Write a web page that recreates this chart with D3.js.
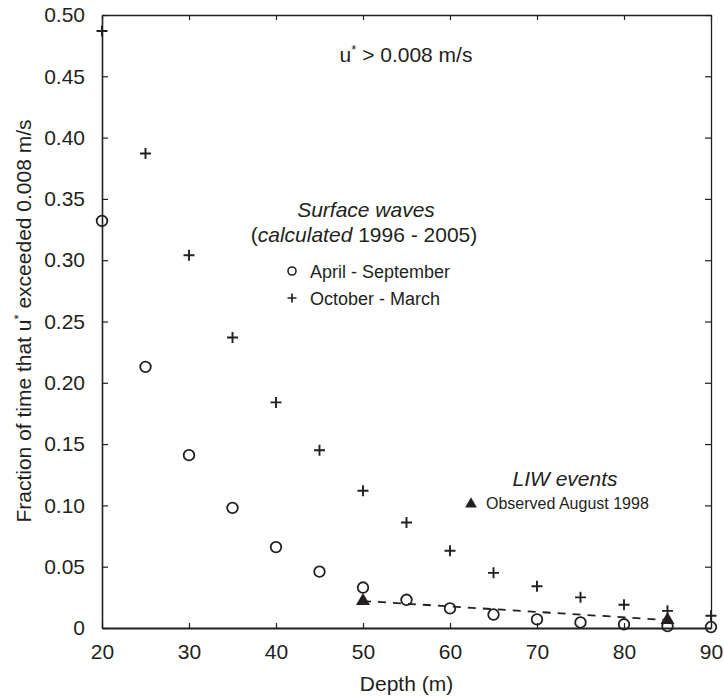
<!DOCTYPE html>
<html>
<head>
<meta charset="utf-8">
<script src="https://cdn.jsdelivr.net/npm/d3@7"></script>
<style>
  body { margin: 0; background: #fff; }
  svg text { font-family: "Liberation Sans", Arial, sans-serif; fill: #231f20; }
  .axis path, .axis line { stroke: #231f20; }
</style>
</head>
<body>
<svg id="chart" width="724" height="696"></svg>
<script>
// depths (m)
const depths = [20, 25, 30, 35, 40, 45, 50, 55, 60, 65, 70, 75, 80, 85, 90];
// calculated surface waves, April - September (circles)
const aprSep = [0.332, 0.213, 0.141, 0.098, 0.066, 0.046, 0.033, 0.023, 0.016, 0.011, 0.007, 0.0045, 0.003, 0.0015, 0.0008];
// calculated surface waves, October - March (crosses)
const octMar = [0.487, 0.387, 0.304, 0.237, 0.184, 0.145, 0.112, 0.086, 0.063, 0.045, 0.034, 0.025, 0.019, 0.014, 0.010];
// LIW events observed August 1998 (triangles)
const liwDepths = [50, 85];
const liwValues = [0.022, 0.0065];

const xTicks = [20, 30, 40, 50, 60, 70, 80, 90];
const yTicks = [0, 0.05, 0.10, 0.15, 0.20, 0.25, 0.30, 0.35, 0.40, 0.45, 0.50];

const svg = d3.select('#chart');
const DIM = { width: 724, height: 696, margin_top: 15, margin_bottom: 68, margin_left: 102, margin_right: 13 };
DIM.inner_w = DIM.width - DIM.margin_left - DIM.margin_right;
DIM.inner_h = DIM.height - DIM.margin_top - DIM.margin_bottom;

const x = d3.scaleLinear().domain([20, 90]).range([DIM.margin_left, DIM.margin_left + DIM.inner_w]);
const y = d3.scaleLinear().domain([0, 0.5]).range([DIM.margin_top + DIM.inner_h, DIM.margin_top]);

const ink = '#231f20';

// axes, ticks pointing inward
const fmtY = d => d === 0 ? '0' : d3.format('.2f')(d);

svg.append('g')
    .attr('class', 'axis')
    .attr('transform', `translate(0, ${y(0)})`)
    .call(d3.axisBottom(x).tickValues(xTicks).tickSizeInner(-5).tickSizeOuter(0).tickPadding(16).tickFormat(d3.format('d')))
    .call(g => g.select('.domain').attr('stroke-width', 2.2));

svg.append('g')
    .attr('class', 'axis')
    .attr('transform', `translate(${x(20)}, 0)`)
    .call(d3.axisLeft(y).tickValues(yTicks).tickSizeInner(-6).tickSizeOuter(0).tickPadding(17).tickFormat(fmtY))
    .call(g => g.select('.domain').attr('stroke-width', 1.6));

// top and right frame with inner ticks, no labels
svg.append('g')
    .attr('class', 'axis')
    .attr('transform', `translate(0, ${y(0.5)})`)
    .call(d3.axisTop(x).tickValues(xTicks).tickSizeInner(-5).tickSizeOuter(0).tickFormat(''))
    .call(g => g.select('.domain').attr('stroke-width', 1.3));

svg.append('g')
    .attr('class', 'axis')
    .attr('transform', `translate(${x(90)}, 0)`)
    .call(d3.axisRight(y).tickValues(yTicks).tickSizeInner(-6).tickSizeOuter(0).tickFormat(''))
    .call(g => g.select('.domain').attr('stroke-width', 1.3));

svg.selectAll('.axis .tick text').attr('font-size', 21).attr('fill', ink);
svg.selectAll('.axis .tick line').attr('stroke-width', 1.2);

// axis titles
svg.append('text')
    .attr('x', x(55))
    .attr('y', 691)
    .attr('text-anchor', 'middle')
    .attr('font-size', 21)
    .text('Depth (m)');

const yLabel = svg.append('text')
    .attr('transform', `translate(31, 321) rotate(-90)`)
    .attr('text-anchor', 'middle')
    .attr('font-size', 21);
yLabel.append('tspan').text('Fraction of time that u');
yLabel.append('tspan').attr('font-size', 13).attr('dy', -8).text('*');
yLabel.append('tspan').attr('dy', 8).text(' exceeded 0.008 m/s');

// dashed line between LIW observations
const liw = liwDepths.map((d, i) => ({ x: d, y: liwValues[i] }));
svg.append('path')
    .datum(liw)
    .attr('fill', 'none')
    .attr('stroke', ink)
    .attr('stroke-width', 1.8)
    .attr('stroke-dasharray', '8,7')
    .attr('d', d3.line().x(d => x(d.x)).y(d => y(d.y)));

// circles
svg.append('g')
    .selectAll('circle')
    .data(depths.map((d, i) => ({ x: d, y: aprSep[i] })))
    .join('circle')
    .attr('cx', d => x(d.x))
    .attr('cy', d => y(d.y))
    .attr('r', 5.3)
    .attr('fill', 'none')
    .attr('stroke', ink)
    .attr('stroke-width', 1.8);

// crosses
const plus = (s) => `M${-s},0H${s}M0,${-s}V${s}`;
svg.append('g')
    .selectAll('path')
    .data(depths.map((d, i) => ({ x: d, y: octMar[i] })))
    .join('path')
    .attr('transform', d => `translate(${x(d.x)}, ${y(d.y)})`)
    .attr('d', plus(5.5))
    .attr('stroke', ink)
    .attr('stroke-width', 1.9);

// triangles
svg.append('g')
    .selectAll('path')
    .data(liw)
    .join('path')
    .attr('transform', d => `translate(${x(d.x)}, ${y(d.y)})`)
    .attr('d', d3.symbol().type(d3.symbolTriangle).size(85))
    .attr('fill', ink);

// annotations
const t1 = svg.append('text')
    .attr('x', 406).attr('y', 62)
    .attr('text-anchor', 'middle')
    .attr('font-size', 21);
t1.append('tspan').text('u');
t1.append('tspan').attr('font-size', 13).attr('dy', -8).text('*');
t1.append('tspan').attr('dy', 8).text(' > 0.008 m/s');

svg.append('text')
    .attr('x', 366).attr('y', 217)
    .attr('text-anchor', 'middle')
    .attr('font-size', 21)
    .attr('font-style', 'italic')
    .text('Surface waves');

const t2 = svg.append('text')
    .attr('x', 364).attr('y', 242)
    .attr('text-anchor', 'middle')
    .attr('font-size', 21);
t2.append('tspan').text('(');
t2.append('tspan').attr('font-style', 'italic').text('calculated');
t2.append('tspan').text(' 1996 - 2005)');

// legend for surface waves
svg.append('circle')
    .attr('cx', 292).attr('cy', 271).attr('r', 4)
    .attr('fill', 'none').attr('stroke', ink).attr('stroke-width', 1.6);
svg.append('text')
    .attr('x', 310).attr('y', 278)
    .attr('font-size', 18)
    .text('April - September');

svg.append('path')
    .attr('transform', 'translate(292, 298)')
    .attr('d', plus(4.5))
    .attr('stroke', ink).attr('stroke-width', 1.7);
svg.append('text')
    .attr('x', 310).attr('y', 305)
    .attr('font-size', 18)
    .text('October - March');

// LIW legend
svg.append('text')
    .attr('x', 565).attr('y', 486)
    .attr('text-anchor', 'middle')
    .attr('font-size', 21)
    .attr('font-style', 'italic')
    .text('LIW events');

svg.append('path')
    .attr('transform', 'translate(471, 504)')
    .attr('d', d3.symbol().type(d3.symbolTriangle).size(60))
    .attr('fill', ink);
svg.append('text')
    .attr('x', 486).attr('y', 509)
    .attr('font-size', 16)
    .text('Observed August 1998');
</script>
</body>
</html>
